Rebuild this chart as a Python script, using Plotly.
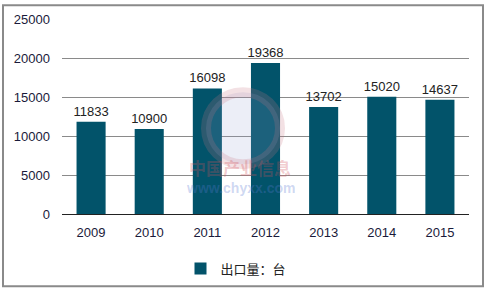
import plotly.graph_objects as go

years = ["2009", "2010", "2011", "2012", "2013", "2014", "2015"]
exports = [11833, 10900, 16098, 19368, 13702, 15020, 14637]
series_name = "出口量：台"
y_ticks = [0, 5000, 10000, 15000, 20000, 25000]
y_tick_labels = ["0", "5000", "10000", "15000", "20000", "25000"]

W, H = 487, 296
L, R, T, B = 62, 18, 16, 80
pw, ph = W - L - R, H - T - B

def px(x):
    return (x - L) / pw

def py(y):
    return (H - B - y) / ph

fig = go.Figure()
fig.add_trace(go.Bar(
    x=years, y=exports, name=series_name,
    marker=dict(color="#02536a", line=dict(width=0)),
    width=0.5,
    text=[str(v) for v in exports], textposition="outside",
    constraintext="none",
    textfont=dict(family="Liberation Sans, Arial", size=13, color="#222222"),
    cliponaxis=False,
))

fig.update_layout(
    width=W, height=H,
    margin=dict(l=L, r=R, t=T, b=B),
    paper_bgcolor="white", plot_bgcolor="white",
    font=dict(family="Liberation Sans, Arial", size=13, color="#1a1a3a"),
    showlegend=True,
    legend=dict(orientation="h", x=px(236), xanchor="center", y=py(272), yanchor="middle",
                font=dict(family="Noto Sans CJK SC, Liberation Sans", size=13, color="#222222"),
                itemwidth=30, traceorder="normal"),
    xaxis=dict(showgrid=False, showline=True, linecolor="#222222", linewidth=1,
               ticks="", tickfont=dict(size=13, color="#1a1a3a"), ticklabelstandoff=6),
    yaxis=dict(range=[0, 25000], tickvals=y_ticks, ticktext=y_tick_labels,
               showgrid=True, gridcolor="#8a8a8a",
               gridwidth=1, zeroline=False, showline=False, ticks="",
               tickfont=dict(size=13, color="#1a1a3a"), ticklabelstandoff=11),
    bargap=0.5,
)

# outer border
fig.add_shape(type="rect", xref="paper", yref="paper",
              x0=px(3), x1=px(483), y0=py(290), y1=py(2),
              line=dict(color="#8a8a8a", width=2), layer="above")

# faint watermark
fig.add_shape(type="circle", xref="paper", yref="paper",
              x0=px(206), x1=px(280), y0=py(165), y1=py(91),
              line=dict(color="rgba(200,120,130,0.22)", width=10),
              fillcolor="rgba(150,160,210,0.18)",
              layer="above")
fig.add_annotation(xref="paper", yref="paper", x=px(240), y=py(183), text="<b>中国产业信息</b>",
                   showarrow=False, font=dict(family="Noto Sans CJK SC", size=17, color="rgba(210,80,90,0.3)"))
fig.add_annotation(xref="paper", yref="paper", x=px(240), y=py(200), text="<b>www.chyxx.com</b>",
                   showarrow=False, font=dict(family="Liberation Sans", size=14, color="rgba(90,120,210,0.3)"))

fig.write_html("out.html")
